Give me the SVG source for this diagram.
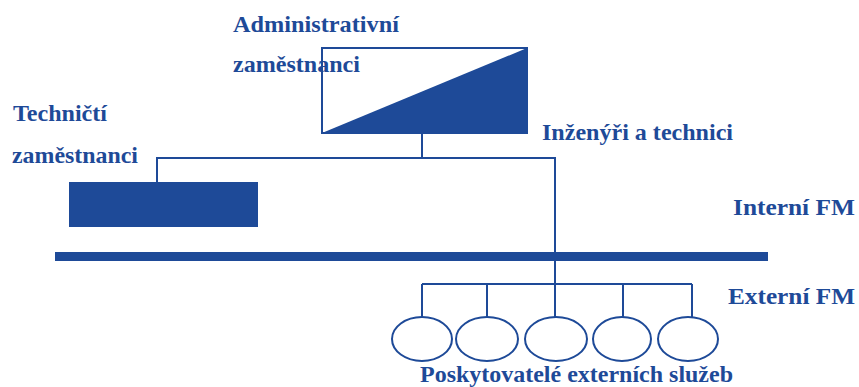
<svg xmlns="http://www.w3.org/2000/svg" width="859" height="387" viewBox="0 0 859 387">
<style>
  .t { font-family: "Liberation Serif", "Times New Roman", "DejaVu Serif", serif; font-weight: bold; font-size: 24px; fill: #1E4A98; }
  .ln { stroke: #1E4A98; stroke-width: 2; fill: none; }
  .el { stroke: #1E4A98; stroke-width: 2; fill: #FFFFFF; }
  .fill { fill: #1E4A98; }
</style>
<rect width="859" height="387" fill="#FFFFFF"/>
<g id="connectors">
  <line class="ln" x1="422" y1="133" x2="422" y2="158"/>
  <polyline class="ln" points="157,182 157,158 555,158 555,284"/>
  <line class="ln" x1="422" y1="284" x2="692" y2="284"/>
  <line class="ln" x1="422" y1="284" x2="422" y2="317"/>
  <line class="ln" x1="487" y1="284" x2="487" y2="317"/>
  <line class="ln" x1="555" y1="284" x2="555" y2="317"/>
  <line class="ln" x1="623" y1="284" x2="623" y2="317"/>
  <line class="ln" x1="692" y1="284" x2="692" y2="317"/>
</g>
<g id="bar">
  <rect class="fill" x="55" y="252" width="713" height="9"/>
</g>
<g id="admin">
  <rect class="ln" x="322" y="48" width="205" height="85"/>
  <polygon class="fill" points="322,133 527,48 527,133"/>
  <text class="t" x="233" y="32" textLength="166" lengthAdjust="spacingAndGlyphs">Administrativní</text>
  <text class="t" x="233" y="72" textLength="127" lengthAdjust="spacingAndGlyphs">zaměstnanci</text>
</g>
<g id="technical">
  <rect class="fill" x="69" y="182" width="189" height="45"/>
  <text class="t" x="13" y="121" textLength="94" lengthAdjust="spacingAndGlyphs">Techničtí</text>
  <text class="t" x="12" y="163" textLength="126" lengthAdjust="spacingAndGlyphs">zaměstnanci</text>
</g>
<g id="engineers">
  <text class="t" x="542" y="140" textLength="191" lengthAdjust="spacingAndGlyphs">Inženýři a technici</text>
</g>
<g id="labels">
  <text class="t" x="733" y="215" textLength="122" lengthAdjust="spacingAndGlyphs">Interní FM</text>
  <text class="t" x="728" y="304" textLength="127" lengthAdjust="spacingAndGlyphs">Externí FM</text>
</g>
<g id="providers">
  <ellipse class="el" cx="422" cy="339" rx="30" ry="22"/>
  <ellipse class="el" cx="487" cy="339" rx="31" ry="22"/>
  <ellipse class="el" cx="556" cy="339" rx="31" ry="22"/>
  <ellipse class="el" cx="622" cy="339" rx="29" ry="22"/>
  <ellipse class="el" cx="688" cy="339" rx="30" ry="22"/>
  <text class="t" x="420" y="382" textLength="313" lengthAdjust="spacingAndGlyphs">Poskytovatelé externích služeb</text>
</g>
</svg>
